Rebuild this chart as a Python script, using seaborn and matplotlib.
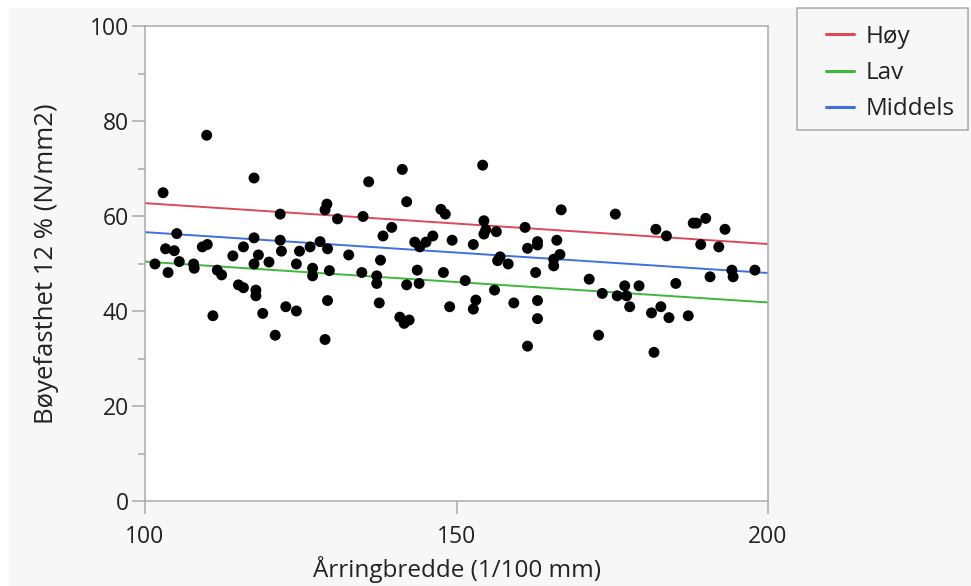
import numpy as np
import pandas as pd
import matplotlib
matplotlib.use("Agg")
import matplotlib.pyplot as plt
from matplotlib.patches import Rectangle
from matplotlib.ticker import MultipleLocator
import seaborn as sns

# Årringbredde (1/100 mm) og bøyefasthet (N/mm2), lest av figuren
arring = [
    109.9, 102.9, 117.5, 121.7, 129.2, 128.9, 130.9, 105.1, 103.3, 104.7,
    101.6, 103.7, 105.5, 107.8, 107.9, 109.2, 110.0, 111.6, 112.3, 110.9,
    114.1, 115.8, 117.5, 118.2, 117.5, 119.9, 115.0, 115.8, 117.8, 117.8,
    118.9, 120.9, 121.7, 121.9, 122.6, 124.3, 124.3, 124.8, 126.5, 128.1,
    129.3, 126.9, 126.9, 129.6, 132.7, 129.3, 128.9, 134.8, 135.9, 141.3,
    142.0, 154.2, 135.0, 139.6, 138.2, 137.8, 137.2, 137.2, 137.6, 140.9,
    141.6, 142.4, 142.0, 143.7, 144.0, 143.3, 144.1, 145.1, 146.2, 147.5,
    148.2, 149.3, 147.9, 148.9, 151.4, 152.7, 153.1, 152.7, 154.4, 154.7,
    154.4, 156.4, 156.6, 157.0, 158.3, 156.1, 159.2, 161.0, 161.4, 163.0,
    163.0, 162.7, 163.0, 163.0, 161.4, 166.8, 166.1, 166.6, 165.6, 165.6,
    171.3, 172.8, 173.4, 175.5, 175.8, 177.0, 177.3, 177.8, 179.3, 181.3,
    181.7, 182.0, 182.8, 183.7, 184.1, 185.2, 187.2, 188.0, 188.5, 190.0,
    189.2, 190.7, 192.1, 193.1, 194.2, 194.4, 197.9,
]
fasthet = [
    77.0, 64.9, 68.0, 60.4, 62.5, 61.3, 59.4, 56.3, 53.1, 52.7,
    49.9, 48.1, 50.4, 49.9, 49.0, 53.5, 54.0, 48.6, 47.6, 39.0,
    51.6, 53.5, 55.4, 51.8, 49.9, 50.3, 45.5, 44.9, 44.4, 43.2,
    39.5, 34.9, 54.9, 52.6, 40.9, 40.0, 49.9, 52.6, 53.5, 54.6,
    53.1, 49.0, 47.4, 48.5, 51.8, 42.2, 34.0, 48.1, 67.2, 69.8,
    63.0, 70.7, 59.9, 57.6, 55.8, 50.7, 47.4, 45.8, 41.7, 38.7,
    37.4, 38.1, 45.5, 48.6, 45.8, 54.5, 53.5, 54.5, 55.8, 61.4,
    60.4, 54.9, 48.1, 40.9, 46.4, 54.0, 42.3, 40.4, 59.0, 57.1,
    56.2, 56.7, 50.6, 51.4, 49.9, 44.4, 41.7, 57.6, 53.2, 54.6,
    53.9, 48.1, 42.2, 38.4, 32.6, 61.3, 54.9, 51.9, 50.9, 49.5,
    46.7, 34.9, 43.7, 60.4, 43.2, 45.3, 43.2, 40.9, 45.3, 39.6,
    31.3, 57.2, 40.9, 55.8, 38.6, 45.8, 39.0, 58.5, 58.5, 59.5,
    54.0, 47.2, 53.5, 57.2, 48.6, 47.2, 48.6,
]

# tilpassede linjer per gruppe (verdi ved x = 100 og x = 200)
linje_x = [100, 200]
grupper = ["Høy", "Lav", "Middels"]
hoy = [62.7, 54.1]
lav = [50.4, 41.8]
middels = [56.6, 48.0]

farger = {"Høy": "#dc4a5a", "Lav": "#3cb83c", "Middels": "#3f6fe0"}

BG = "#f7f7f7"
SPINE = "#a9a9a9"
TXT = "#222222"
W, H = 971, 586

sns.set_theme(style="white")
plt.rcParams["font.family"] = ["Open Sans", "DejaVu Sans"]

punkter = pd.DataFrame({"x": arring, "y": fasthet})
linjer = pd.DataFrame({
    "x": linje_x * 3,
    "y": hoy + lav + middels,
    "gruppe": [g for g in grupper for _ in linje_x],
})

fig = plt.figure(figsize=(W / 100, H / 100), dpi=100, facecolor="white")
fig.patches.append(Rectangle((9 / W, 0), 1, 1 - 8 / H, transform=fig.transFigure,
                             facecolor=BG, edgecolor="none", zorder=-10))
ax = fig.add_axes([145 / W, 1 - 501 / H, 623 / W, 475 / H])
ax.set_facecolor("white")

sns.lineplot(data=linjer, x="x", y="y", hue="gruppe", hue_order=grupper,
             palette=farger, linewidth=1.4, ax=ax, legend=False, zorder=2)
sns.scatterplot(data=punkter, x="x", y="y", color="black", s=62,
                edgecolor="none", ax=ax, zorder=3)

ax.set_xlim(100, 200)
ax.set_ylim(0, 100)
ax.xaxis.set_major_locator(MultipleLocator(50))
ax.yaxis.set_major_locator(MultipleLocator(20))
ax.yaxis.set_minor_locator(MultipleLocator(10))
for s in ax.spines.values():
    s.set_color(SPINE)
    s.set_linewidth(1.1)
ax.tick_params(axis="both", which="major", direction="out", length=9.5, width=1.1,
               color=SPINE, labelsize=16.5, labelcolor=TXT, left=True, bottom=True)
ax.tick_params(axis="x", which="major", pad=8)
ax.tick_params(axis="y", which="major", pad=2)
ax.tick_params(axis="y", which="minor", direction="out", length=5, width=1.1,
               color=SPINE, left=True)
ax.set_xlabel("Årringbredde (1/100 mm)", fontsize=17.5, color=TXT, labelpad=5)
ax.set_ylabel("Bøyefasthet 12 % (N/mm2)", fontsize=18.5, color=TXT, labelpad=22)

# legendeboks
fig.patches.append(Rectangle((797 / W, 1 - 130 / H), 171 / W, 122 / H,
                             transform=fig.transFigure, facecolor=BG,
                             edgecolor=SPINE, linewidth=1.1, zorder=5))
handles = [plt.Line2D([], [], color=farger[g], linewidth=2.2) for g in grupper]
leg = fig.legend(handles, grupper, loc="upper left",
                 bbox_to_anchor=(826 / W, 1 - 25 / H), frameon=False,
                 fontsize=17.5, handlelength=1.15, handletextpad=0.5,
                 labelspacing=0.5, borderpad=0, borderaxespad=0)
leg.set_zorder(6)
for t in leg.get_texts():
    t.set_color(TXT)

fig.savefig("out.png", dpi=100, facecolor=fig.get_facecolor())
